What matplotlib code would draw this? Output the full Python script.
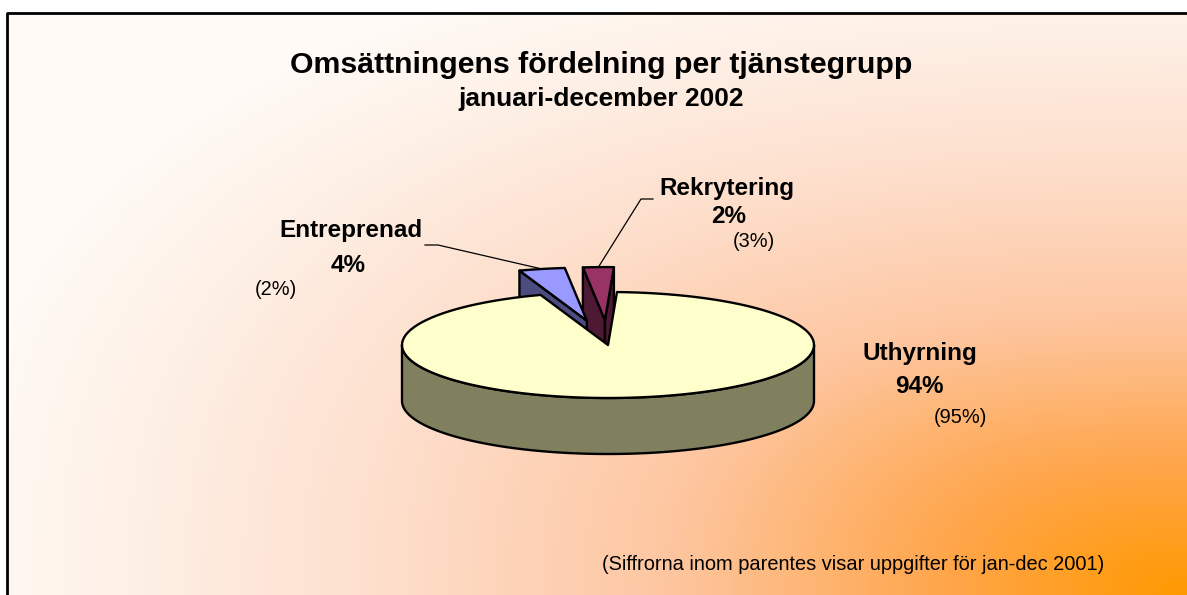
import numpy as np
import matplotlib
matplotlib.use("Agg")
import matplotlib.pyplot as plt
from matplotlib.patches import Polygon
from matplotlib.colors import LinearSegmentedColormap

# ---- data ----
categories = ["Uthyrning", "Entreprenad", "Rekrytering"]
share_2002 = [94.0, 3.6, 2.4]          # % of turnover Jan-Dec 2002
share_2001 = [95, 2, 3]                # % in brackets (Jan-Dec 2001)
exploded = [0.0, 0.47, 0.47]
top_colors = ["#FFFFCC", "#9999FF", "#993366"]
side_colors = ["#80805F", "#4C4C80", "#4D1933"]

title = "Omsättningens fördelning per tjänstegrupp"
subtitle = "januari-december 2002"
footnote = "(Siffrorna inom parentes visar uppgifter för jan-dec 2001)"

FONT = ["Liberation Sans", "DejaVu Sans"]

W, H = 1187, 595
fig = plt.figure(figsize=(W / 100, H / 100), dpi=100)
fig.patch.set_facecolor("white")
ax = fig.add_axes([0, 0, 1, 1])
ax.axis("off")

# ---- background gradient (from bottom-right corner) ----
FX, FY = 7, 13
yy, xx = np.mgrid[FY:H, FX:W] + 0.5
pn = 2.6
d = ((np.abs(xx - W) / 1230.0) ** pn + (np.abs(yy - H) / 660.0) ** pn) ** (1 / pn)
bg = LinearSegmentedColormap.from_list(
    "bg", [(0.0, "#FF9900"), (0.2, "#FFA64C"), (0.42, "#FDC6A0"),
           (0.65, "#FDDECB"), (0.86, "#FEF0E6"), (1.0, "#FFFAF5")])
ax.imshow(bg(np.clip(d, 0, 1)), extent=[FX, W, H, FY], zorder=0,
          interpolation="bilinear", aspect="auto")
ax.plot([FX, FX, W + 20], [H + 20, FY, FY], color="black", lw=2.0, zorder=1,
        solid_capstyle="butt", clip_on=False)

ax.set_xlim(0, W)
ax.set_ylim(H, 0)

# ---- 3D pie ----
cx, cy, a, b, depth = 608, 345, 206, 53, 56
start = 87.5
total = float(sum(share_2002))

slices = []
t = start
for i, v in enumerate(share_2002):
    span = 360.0 * v / total
    hi, lo = t, t - span
    t = lo
    mid = np.radians((hi + lo) / 2)
    slices.append(dict(i=i, lo=lo, hi=hi, mid=mid,
                       ox=exploded[i] * a * np.cos(mid),
                       oy=-exploded[i] * b * np.sin(mid)))


def proj(s, tdeg, r, z):
    tr = np.radians(tdeg)
    return (cx + s["ox"] + r * a * np.cos(tr),
            cy + s["oy"] - r * b * np.sin(tr) + z * depth)


def arc(s, t1, t2, z, n=120):
    ts = np.linspace(t1, t2, n)
    return [proj(s, tt, 1, z) for tt in ts]


EDGE = dict(edgecolor="black", linewidth=1.7, joinstyle="round")
outer_mid = {}
for s in sorted(slices, key=lambda s: -np.sin(s["mid"])):
    i = s["i"]
    # outer curved side (front half only)
    for k in range(-2, 3):
        f1, f2 = 180 + 360 * k, 360 + 360 * k
        t1, t2 = max(f1, s["lo"]), min(f2, s["hi"])
        if t2 > t1:
            pts = arc(s, t1, t2, 0) + arc(s, t2, t1, 1)
            ax.add_patch(Polygon(pts, closed=True, facecolor=side_colors[i],
                                 zorder=3, **EDGE))
    # radial faces
    for tt, vis in ((s["hi"], np.cos(np.radians(s["hi"])) < 0),
                    (s["lo"], np.cos(np.radians(s["lo"])) > 0)):
        if vis:
            pts = [proj(s, tt, 0, 0), proj(s, tt, 1, 0),
                   proj(s, tt, 1, 1), proj(s, tt, 0, 1)]
            ax.add_patch(Polygon(pts, closed=True, facecolor=side_colors[i],
                                 zorder=3, **EDGE))
    # top face
    pts = [proj(s, 0, 0, 0)] + arc(s, s["lo"], s["hi"], 0)
    ax.add_patch(Polygon(pts, closed=True, facecolor=top_colors[i],
                         zorder=3, **EDGE))
    outer_mid[i] = proj(s, np.degrees(s["mid"]), 1, 0)

# ---- titles ----
ax.text(601, 73, title, ha="center", va="baseline", fontsize=21.8,
        fontweight="bold", family=FONT, zorder=5)
ax.text(601, 106, subtitle, ha="center", va="baseline", fontsize=19,
        fontweight="bold", family=FONT, zorder=5)
ax.text(853, 570, footnote, ha="center", va="baseline", fontsize=14.4,
        family=FONT, zorder=5)

# ---- data labels ----
label_pos = {  # name cx, name baseline, pct cx, pct baseline, bracket cx, bracket baseline
    0: (920, 360, 919, 393, 960, 423),
    1: (351, 237, 348, 272, 276, 295),
    2: (727, 195, 729, 223, 754, 247),
}
for i, cat in enumerate(categories):
    nx, ny, px, py, bx, by = label_pos[i]
    ax.text(nx, ny, cat, ha="center", va="baseline", fontsize=17.5,
            fontweight="bold", family=FONT, zorder=5)
    ax.text(px, py, f"{share_2002[i]:.0f}%", ha="center", va="baseline",
            fontsize=17.5, fontweight="bold", family=FONT, zorder=5)
    ax.text(bx, by, f"({share_2001[i]}%)", ha="center", va="baseline",
            fontsize=14.4, family=FONT, zorder=5)

# leader lines
leaders = {1: [(425, 245), (438, 245)], 2: [(653, 199), (641, 199)]}
for i, knees in leaders.items():
    pts = knees + [outer_mid[i]]
    ax.plot([p[0] for p in pts], [p[1] for p in pts], color="black",
            lw=0.9, zorder=4)

fig.savefig("out.png", dpi=100)
